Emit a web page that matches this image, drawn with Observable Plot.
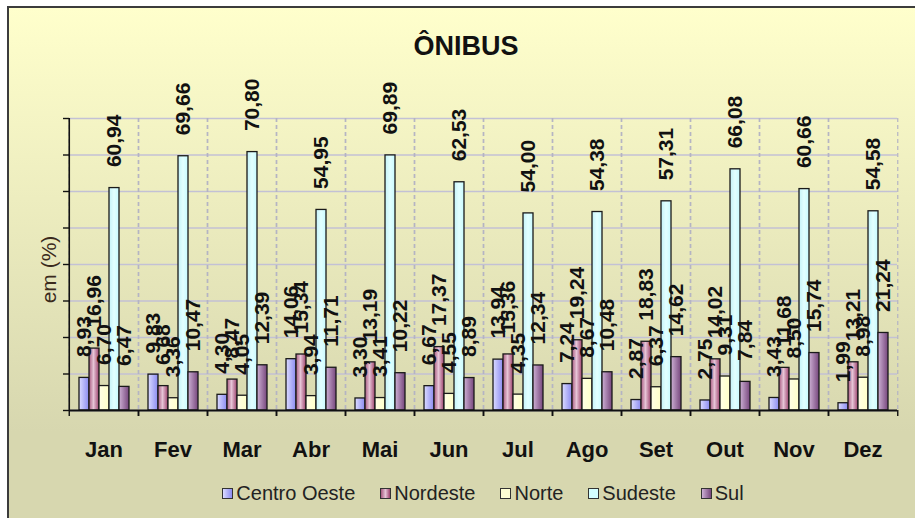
<!DOCTYPE html>
<html><head><meta charset="utf-8">
<script src="https://cdn.jsdelivr.net/npm/d3@7"></script>
<script src="https://cdn.jsdelivr.net/npm/@observablehq/plot@0.6"></script>
<style>
html,body{margin:0;padding:0;background:#fff;overflow:hidden;width:915px;height:518px;font-family:"Liberation Sans",Arial,sans-serif;}
#bg{position:absolute;left:7px;top:6px;width:940px;height:540px;border-left:2px solid #3c3c3c;border-top:2px solid #3c3c3c;background:linear-gradient(to bottom,#FFFFCC 0px,#D7D7AF 424px,#D7D7AF 540px);}
#title{position:absolute;left:0;top:33px;width:915px;padding-left:17px;box-sizing:border-box;text-align:center;font-size:27px;line-height:27px;font-weight:bold;color:#111;}
#chart{position:absolute;left:0;top:0;}
#legend{position:absolute;left:66px;top:483px;width:834px;display:flex;justify-content:center;gap:25px;font-size:20px;line-height:20px;color:#222;}
.item{display:flex;align-items:center;}
.sw{width:9px;height:9px;border:1px solid #333;margin-right:3px;}
</style></head><body>
<svg width="0" height="0" style="position:absolute">
  <defs>
    <linearGradient id="gCO" x1="0" x2="1" y1="0" y2="0"><stop offset="0" stop-color="#DCDCFF"/><stop offset="1" stop-color="#8A8AF0"/></linearGradient>
    <linearGradient id="gNE" x1="0" x2="1" y1="0" y2="0"><stop offset="0" stop-color="#A85A80"/><stop offset="0.45" stop-color="#E6C4D6"/><stop offset="1" stop-color="#9C416C"/></linearGradient>
    <linearGradient id="gNO" x1="0" x2="1" y1="0" y2="0"><stop offset="0" stop-color="#FFFFE6"/><stop offset="1" stop-color="#FFFFC8"/></linearGradient>
    <linearGradient id="gSE" x1="0" x2="1" y1="0" y2="0"><stop offset="0" stop-color="#C4F2F8"/><stop offset="0.5" stop-color="#E2FFFF"/><stop offset="1" stop-color="#C8FAFF"/></linearGradient>
    <linearGradient id="gSU" x1="0" x2="1" y1="0" y2="0"><stop offset="0" stop-color="#CDB0D4"/><stop offset="1" stop-color="#76467C"/></linearGradient>
  </defs>
</svg>
<div id="bg"></div>
<div id="title">ÔNIBUS</div>
<div id="chart"></div>
<div id="legend"></div>
<script>
const months = ["Jan","Fev","Mar","Abr","Mai","Jun","Jul","Ago","Set","Out","Nov","Dez"];
const series = ["Centro Oeste","Nordeste","Norte","Sudeste","Sul"];
const centroOeste = [8.93, 9.83, 4.30, 14.06, 3.30, 6.67, 13.94, 7.24, 2.87, 2.75, 3.43, 1.99];
const nordeste    = [16.96, 6.68, 8.47, 15.34, 13.19, 17.37, 15.36, 19.24, 18.83, 14.02, 11.68, 13.21];
const norte       = [6.70, 3.36, 4.05, 3.94, 3.41, 4.55, 4.35, 8.67, 6.37, 9.31, 8.50, 8.98];
const sudeste     = [60.94, 69.66, 70.80, 54.95, 69.89, 62.53, 54.00, 54.38, 57.31, 66.08, 60.66, 54.58];
const sul         = [6.47, 10.47, 12.39, 11.71, 10.22, 8.89, 12.34, 10.48, 14.62, 7.84, 15.74, 21.24];
const yTicks = [0, 10, 20, 30, 40, 50, 60, 70, 80];
const title = "ÔNIBUS";
const yLabel = "em (%)";

const values = [centroOeste, nordeste, norte, sudeste, sul];
const fills = ["url(#gCO)", "url(#gNE)", "url(#gNO)", "url(#gSE)", "url(#gSU)"];
const swatches = [
  "linear-gradient(to right,#DCDCFF,#8A8AF0)",
  "linear-gradient(to right,#A85A80,#E6C4D6,#9C416C)",
  "#FFFFD4",
  "#D4FFFF",
  "linear-gradient(to right,#CDB0D4,#76467C)"
];
const data = months.flatMap((m, i) => series.map((s, j) => ({month: m, series: s, value: values[j][i]})));
const fmt = v => v.toFixed(2).replace(".", ",");

const W = 915, H = 518, ML = 66, MR = 15, MT = 118, MB = 108;
const bw = (W - ML - MR) / months.length;
const font = "Liberation Sans, Arial, sans-serif";

const chart = Plot.plot({
  width: W, height: H,
  marginTop: MT, marginBottom: MB, marginLeft: ML, marginRight: MR,
  style: {background: "transparent", fontFamily: font, color: "#111", overflow: "visible"},
  fx: {domain: months, padding: 0, label: null},
  x: {domain: series, paddingInner: 0, paddingOuter: 0.77, align: 0.55, axis: null},
  y: {domain: [0, 80]},
  color: {domain: series, range: fills},
  marks: [
    Plot.gridY({ticks: yTicks, stroke: "#C3C1D5", strokeOpacity: 1, strokeWidth: 1.4}),
    Plot.gridFx({dx: -bw / 2, stroke: "#B4B3C4", strokeOpacity: 1, strokeWidth: 1.2, strokeDasharray: "4,3"}),
    Plot.gridFx({dx: bw / 2, stroke: "#B4B3C4", strokeOpacity: 1, strokeWidth: 1.2, strokeDasharray: "4,3"}),
    Plot.barY(data, {fx: "month", x: "series", y: "value", fill: "series", stroke: "#1a1a1a", strokeWidth: 1.3, inset: 0}),
    Plot.ruleY([0], {stroke: "#111", strokeWidth: 1.8}),
    Plot.gridFx({ticks: [months[0]], dx: -bw / 2, stroke: "#111", strokeOpacity: 1, strokeWidth: 1.6}),
    Plot.axisFx({anchor: "bottom", tickSize: 6, tickFormat: null, dx: -bw / 2, label: null, strokeWidth: 1.4}),
    Plot.axisFx({anchor: "bottom", tickSize: 6, tickFormat: null, dx: bw / 2, label: null, strokeWidth: 1.4}),
    Plot.axisFx({anchor: "bottom", tickSize: 0, tickPadding: 31, fontSize: 22, fontWeight: "bold", label: null}),
    Plot.axisY({ticks: yTicks, tickSize: 6, tickFormat: () => "", label: null, strokeWidth: 1.4}),
    Plot.text([yLabel], {fx: () => months[0], text: d => d, frameAnchor: "left", rotate: -90, dx: -20, dy: 5, textAnchor: "middle", fontSize: 21, fill: "#3a2a1c"}),
    Plot.text(data, {fx: "month", x: "series", y: "value", text: d => fmt(d.value), rotate: -90, textAnchor: "start", dy: -21, fontSize: 21, fontWeight: "bold", fill: "#111"})
  ]
});
document.getElementById("chart").appendChild(chart);
document.getElementById("title").textContent = title;

const legend = document.getElementById("legend");
series.forEach((s, i) => {
  const item = document.createElement("div");
  item.className = "item";
  const sw = document.createElement("span");
  sw.className = "sw";
  sw.style.background = swatches[i];
  const t = document.createElement("span");
  t.textContent = s;
  item.appendChild(sw);
  item.appendChild(t);
  legend.appendChild(item);
});
</script>
</body></html>
